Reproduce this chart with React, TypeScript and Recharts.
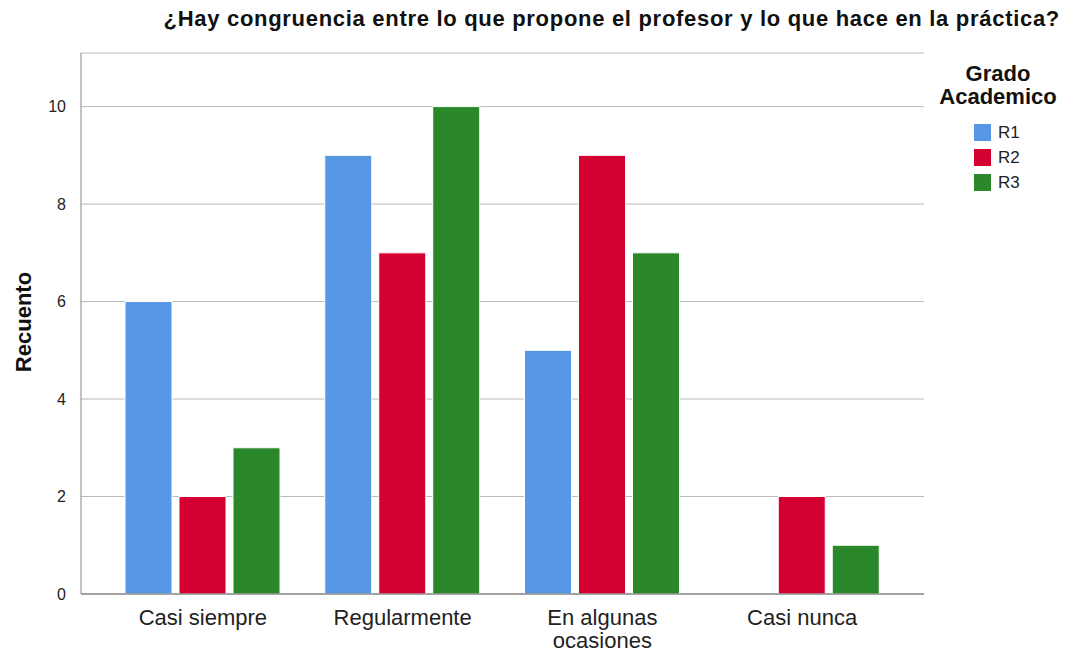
import { Bar, BarChart, CartesianGrid, XAxis, YAxis } from "recharts";

const categories = ["Casi siempre", "Regularmente", "En algunas ocasiones", "Casi nunca"];
const r1 = [6, 9, 5, 0];
const r2 = [2, 7, 9, 2];
const r3 = [3, 10, 7, 1];
const yTicks = [0, 2, 4, 6, 8, 10];

const seriesNames = ["R1", "R2", "R3"];
const colors = ["#5798e6", "#d50032", "#2a872a"];

const data = categories.map((c, i) => ({ name: c, R1: r1[i], R2: r2[i], R3: r3[i] }));

const FONT = "'Liberation Sans', Arial, sans-serif";

// greedy word wrap for category labels
function wrap(label: string, maxChars = 12) {
  const lines: string[] = [];
  let cur = "";
  for (const w of label.split(" ")) {
    const next = cur ? cur + " " + w : w;
    if (next.length > maxChars && cur) {
      lines.push(cur);
      cur = w;
    } else cur = next;
  }
  if (cur) lines.push(cur);
  return lines;
}

function CategoryTick(props: any) {
  const { x, y, payload } = props;
  const lines = wrap(String(payload.value));
  return (
    <text x={x} y={y} textAnchor="middle" fontSize={22} fill="#222" fontFamily={FONT}>
      {lines.map((l, i) => (
        <tspan key={i} x={x} y={y + 23 + i * 23}>
          {l}
        </tspan>
      ))}
    </text>
  );
}

function LegendBox() {
  return (
    <div style={{ position: "absolute", left: 936, top: 62, width: 124, fontFamily: FONT }}>
      <div style={{ fontWeight: "bold", fontSize: 22, lineHeight: "23px", textAlign: "center", color: "#111" }}>
        Grado
        <br />
        Academico
      </div>
      <div style={{ marginTop: 12, marginLeft: 38 }}>
        {seriesNames.map((n, i) => (
          <div key={n} style={{ display: "flex", alignItems: "center", height: 25 }}>
            <span style={{ width: 17, height: 17, background: colors[i], display: "inline-block", marginRight: 7 }} />
            <span style={{ fontSize: 17, color: "#222" }}>{n}</span>
          </div>
        ))}
      </div>
    </div>
  );
}

export default function App() {
  return (
    <div style={{ position: "absolute", left: 0, top: 0, width: 1066, height: 654, background: "#fff" }}>
      <div
        style={{
          position: "absolute",
          top: 6,
          right: 6,
          fontFamily: FONT,
          fontWeight: "bold",
          fontSize: 22,
          letterSpacing: 0.7,
          color: "#111",
          whiteSpace: "nowrap",
        }}
      >
        ¿Hay congruencia entre lo que propone el profesor y lo que hace en la práctica?
      </div>
      <div
        style={{
          position: "absolute",
          left: 24,
          top: 322,
          transform: "translate(-50%, -50%) rotate(-90deg)",
          fontFamily: FONT,
          fontWeight: "bold",
          fontSize: 22,
          color: "#111",
          whiteSpace: "nowrap",
        }}
      >
        Recuento
      </div>
      <LegendBox />
      <BarChart
        width={1066}
        height={654}
        data={data}
        margin={{ top: 53, right: 142, bottom: 0, left: 0 }}
        barCategoryGap={22}
        barGap={7}
      >
        <CartesianGrid vertical={false} stroke="#b9b9b9" strokeWidth={1} />
        <XAxis
          dataKey="name"
          height={60}
          padding={{ left: 22, right: 22 }}
          tickLine={false}
          axisLine={{ stroke: "#666", strokeWidth: 1 }}
          tick={<CategoryTick />}
          interval={0}
        />
        <YAxis
          width={81}
          type="number"
          domain={[0, 11.1]}
          ticks={yTicks}
          tickLine={false}
          axisLine={{ stroke: "#888", strokeWidth: 1 }}
          tick={{ fontSize: 16, fill: "#222", fontFamily: FONT }}
          tickMargin={9}
        />
        {seriesNames.map((n, i) => (
          <Bar key={n} dataKey={n} fill={colors[i]} stroke="#ffffff" strokeWidth={1} isAnimationActive={false} />
        ))}
      </BarChart>
    </div>
  );
}
